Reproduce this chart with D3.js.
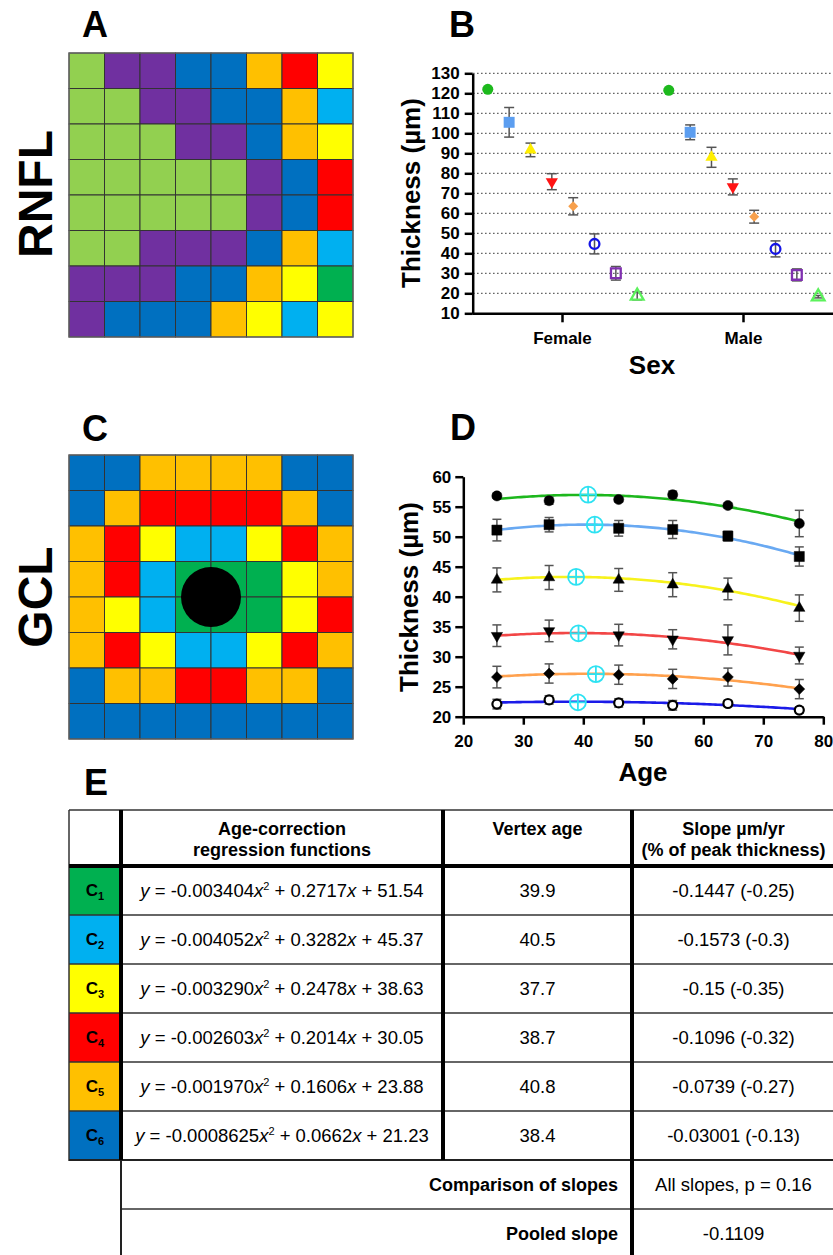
<!DOCTYPE html>
<meta charset="utf-8">
<style>
  body { margin: 0; background: #fff; }
  text { font-family: "Liberation Sans", Arial, sans-serif; }
</style>
<svg width="833" height="1255"></svg>
<script src="https://d3js.org/d3.v7.min.js"></script>
<script>

var svg = d3.select("svg");

// ---------- data ----------
// sector colour codes of the 8x8 grids
var rnflGrid = ["GPPBBORY", "GGPPBBOC", "GGGPPBOY", "GGGGGPBR",
                "GGGGGPBR", "GGPPPBOC", "PPPBBOYD", "PBBBOYCY"];
var gclGrid  = ["BBOOOOBB", "BORRRROB", "ORYCCYRO", "ORCDDDYO",
                "OYCDDDYR", "ORYCCYRO", "BOORROOB", "BBBBBBBB"];
var cellColors = {G: "#92D050", P: "#7030A0", B: "#0070C0", O: "#FFC000",
                  R: "#FF0000", Y: "#FFFF00", C: "#00B0F0", D: "#00B050"};

// panel B: RNFL thickness by sex (8 sectors)
var sexes = ["Female", "Male"];
var rnflSectors = ["S1", "S2", "S3", "S4", "S5", "S6", "S7", "S8"];
var rnflFemale    = [122.0, 105.5, 91.7, 75.8, 63.5, 44.7, 30.0, 18.7];
var rnflFemaleErr = [0.6, 7.4, 3.4, 4.0, 4.3, 5.0, 3.4, 2.0];
var rnflMale      = [121.5, 100.5, 88.0, 73.2, 58.3, 42.2, 29.2, 18.3];
var rnflMaleErr   = [0.6, 3.7, 5.0, 4.0, 3.2, 4.0, 3.0, 0.6];

// panel D: GCL thickness by age
var ages = [25.6, 34.3, 45.9, 54.9, 64.1, 76.0];
var gclMeans = [
  [56.8, 56.0, 56.2, 57.0, 55.2, 52.2],
  [51.1, 52.0, 51.4, 51.2, 50.1, 46.7],
  [42.8, 43.2, 42.8, 42.0, 41.3, 38.1],
  [33.5, 34.3, 33.6, 32.9, 32.8, 30.2],
  [26.6, 27.2, 27.0, 26.3, 26.6, 24.6],
  [22.1, 22.8, 22.3, 21.9, 22.2, 21.1]
];
var gclErr = [
  [0.4, 0.6, 0.4, 0.6, 0.4, 2.2],
  [1.8, 1.2, 1.3, 1.5, 0.8, 1.6],
  [2.0, 2.0, 1.9, 2.0, 1.8, 2.2],
  [1.8, 1.8, 1.8, 1.6, 2.5, 1.4],
  [1.8, 1.6, 1.6, 1.6, 1.5, 1.6],
  [0.8, 0.7, 0.7, 0.8, 0.5, 0.5]
];
var vertexX = [40.8, 41.9, 38.8, 39.2, 42.1, 39.1];
var vertexY = [57.0, 52.0, 43.3, 33.9, 27.1, 22.4];

// panel E: table
var rowNames = ["1", "2", "3", "4", "5", "6"];
var coefA = ["-0.003404", "-0.004052", "-0.003290", "-0.002603", "-0.001970", "-0.0008625"];
var coefB = ["0.2717", "0.3282", "0.2478", "0.2014", "0.1606", "0.0662"];
var coefC = ["51.54", "45.37", "38.63", "30.05", "23.88", "21.23"];
var vertexAges = ["39.9", "40.5", "37.7", "38.7", "40.8", "38.4"];
var slopes = ["-0.1447 (-0.25)", "-0.1573 (-0.3)", "-0.15 (-0.35)",
              "-0.1096 (-0.32)", "-0.0739 (-0.27)", "-0.03001 (-0.13)"];
var slopeTest = "All slopes, p = 0.16";
var pooledSlope = "-0.1109";

// ---------- styles ----------
var rowColors = ["#00B050", "#00B0F0", "#FFFF00", "#FF0000", "#FFC000", "#0070C0"];
var curveColors = ["#1DB71D", "#69A9F2", "#F7F21C", "#F24646", "#FFA14E", "#1B1BE8"];
var vertexColor = "#2DE2F2";
var errColor = "#555";

// panel letters and side titles
function bigText(x, y, t, size) {
  svg.append("text").attr("x", x).attr("y", y).text(t)
    .attr("font-size", size).attr("font-weight", "bold");
}
bigText(82, 37, "A", 36);
bigText(449, 37, "B", 36);
bigText(82, 441, "C", 36);
bigText(450, 440, "D", 36);
bigText(84, 795, "E", 36);

function sideTitle(cy, t) {
  svg.append("text").text(t)
    .attr("transform", "translate(52," + cy + ") rotate(-90)")
    .attr("text-anchor", "middle")
    .attr("font-size", 48).attr("font-weight", "bold");
}
sideTitle(194, "RNFL");
sideTitle(597, "GCL");

// ---------- grids A and C ----------
function drawGrid(grid, top) {
  var xs = d3.scaleBand().domain(d3.range(8)).range([69, 353]);
  var ys = d3.scaleBand().domain(d3.range(8)).range([top, top + 284]);
  var cells = [];
  grid.forEach(function(row, r) {
    row.split("").forEach(function(k, c) { cells.push({r: r, c: c, k: k}); });
  });
  var g = svg.append("g");
  g.selectAll("rect").data(cells).enter().append("rect")
    .attr("x", function(d) { return xs(d.c); })
    .attr("y", function(d) { return ys(d.r); })
    .attr("width", xs.bandwidth())
    .attr("height", ys.bandwidth())
    .attr("fill", function(d) { return cellColors[d.k]; })
    .attr("stroke", "#333")
    .attr("stroke-width", 1);
  g.append("rect").attr("x", 69).attr("y", top).attr("width", 284).attr("height", 284)
    .attr("fill", "none").attr("stroke", "#666").attr("stroke-width", 1.2);
  return {x: xs, y: ys};
}
drawGrid(rnflGrid, 53);
var gc = drawGrid(gclGrid, 455);
svg.append("circle")
  .attr("cx", gc.x(4)).attr("cy", gc.y(4)).attr("r", 30)
  .attr("fill", "#000");

// ---------- common axis style ----------
function styleAxis(g) {
  g.attr("font-size", 17).attr("font-weight", "bold")
    .attr("font-family", "Liberation Sans, Arial, sans-serif");
  g.selectAll("path, line").attr("stroke", "#000").attr("stroke-width", 2.5);
  g.selectAll("text").attr("fill", "#000");
}

// marker definitions shared by B and D
var markerTypes = [
  {sym: d3.symbolCircle, size: 95, rot: 0, open: false},
  {sym: d3.symbolSquare, size: 120, rot: 0, open: false},
  {sym: d3.symbolTriangle, size: 65, rot: 0, open: false},
  {sym: d3.symbolTriangle, size: 65, rot: 180, open: false},
  {sym: d3.symbolSquare, size: 50, rot: 45, open: false},
  {sym: d3.symbolCircle, size: 75, rot: 0, open: true},
  {sym: d3.symbolSquare, size: 95, rot: 0, open: true},
  {sym: d3.symbolTriangle, size: 70, rot: 0, open: true}
];
var rnflColors = ["#1DB91D", "#5C9EF0", "#FFEE00", "#FF1414", "#F7A04C", "#1414E6", "#8030B0", "#5CF25C"];

// ---------- panel B ----------
var bx = d3.scaleBand().domain(sexes).range([472, 834]);
var bOff = d3.scalePoint().domain(rnflSectors).range([-74.7, 74.7]);
var by = d3.scaleLinear().domain([10, 130]).range([313.3, 73.3]);

var bGrid = svg.append("g");
bGrid.selectAll("line").data(d3.range(20, 131, 10)).enter().append("line")
  .attr("x1", 473).attr("x2", 833)
  .attr("y1", function(d) { return by(d); })
  .attr("y2", function(d) { return by(d); })
  .attr("stroke", "#666").attr("stroke-width", 1.3)
  .attr("stroke-dasharray", "1.6,2.4");

var bPts = [];
sexes.forEach(function(s, si) {
  var vals = si === 0 ? rnflFemale : rnflMale;
  var errs = si === 0 ? rnflFemaleErr : rnflMaleErr;
  rnflSectors.forEach(function(k, i) {
    bPts.push({x: bx(s) + bx.bandwidth() / 2 + bOff(k), v: vals[i], e: errs[i], i: i});
  });
});

function errorBars(sel, pts, xf, yf, cap) {
  var g = sel.append("g").attr("stroke", errColor).attr("stroke-width", 1.5);
  pts.forEach(function(d) {
    var x = xf(d), y1 = yf(d.v - d.e), y2 = yf(d.v + d.e);
    g.append("line").attr("x1", x).attr("x2", x).attr("y1", y1).attr("y2", y2);
    g.append("line").attr("x1", x - cap).attr("x2", x + cap).attr("y1", y1).attr("y2", y1);
    g.append("line").attr("x1", x - cap).attr("x2", x + cap).attr("y1", y2).attr("y2", y2);
  });
}
errorBars(svg, bPts, function(d) { return d.x; }, by, 5);

svg.append("g").selectAll("path").data(bPts).enter().append("path")
  .attr("d", function(d) { var m = markerTypes[d.i]; return d3.symbol().type(m.sym).size(m.size)(); })
  .attr("transform", function(d) {
    return "translate(" + d.x + "," + by(d.v) + ") rotate(" + markerTypes[d.i].rot + ")";
  })
  .attr("fill", function(d) { return markerTypes[d.i].open ? "none" : rnflColors[d.i]; })
  .attr("stroke", function(d) { return markerTypes[d.i].open ? rnflColors[d.i] : "none"; })
  .attr("stroke-width", 2.3);

svg.append("g").attr("transform", "translate(472.7,0)")
  .call(d3.axisLeft(by).tickValues(d3.range(10, 131, 10)).tickSize(8).tickPadding(5).tickSizeOuter(0))
  .call(styleAxis);
svg.append("g").attr("transform", "translate(0,313.3)")
  .call(d3.axisBottom(bx).tickSize(9).tickPadding(10).tickSizeOuter(0))
  .call(styleAxis);

svg.append("text").text("Thickness (µm)")
  .attr("transform", "translate(420,193) rotate(-90)")
  .attr("text-anchor", "middle").attr("font-size", 26).attr("font-weight", "bold");
svg.append("text").text("Sex").attr("x", 652).attr("y", 374)
  .attr("text-anchor", "middle").attr("font-size", 26).attr("font-weight", "bold");

// ---------- panel D ----------
var dx = d3.scaleLinear().domain([20, 80]).range([463.3, 823.3]);
var dy = d3.scaleLinear().domain([20, 60]).range([716.7, 476.7]);

var curve = d3.line().x(function(d) { return dx(d[0]); }).y(function(d) { return dy(d[1]); })
  .curve(d3.curveBasis);
var fitAges = d3.range(ages[0], ages[ages.length - 1] + 0.01, 0.5);

gclMeans.forEach(function(means, s) {
  var a = +coefA[s], b = +coefB[s], c = +coefC[s];
  svg.append("path")
    .datum(fitAges.map(function(x) { return [x, a * x * x + b * x + c]; }))
    .attr("d", curve)
    .attr("fill", "none").attr("stroke", curveColors[s]).attr("stroke-width", 2.6);
});

gclMeans.forEach(function(means, s) {
  var pts = means.map(function(v, j) { return {a: ages[j], v: v, e: gclErr[s][j]}; });
  errorBars(svg, pts, function(d) { return dx(d.a); }, dy, 4.5);
  var m = markerTypes[s];
  svg.append("g").selectAll("path").data(pts).enter().append("path")
    .attr("d", d3.symbol().type(m.sym).size(s === 4 ? 60 : m.size * 0.85))
    .attr("transform", function(d) {
      return "translate(" + dx(d.a) + "," + dy(d.v) + ") rotate(" + m.rot + ")";
    })
    .attr("fill", m.open ? "#fff" : "#000")
    .attr("stroke", "#000").attr("stroke-width", m.open ? 2.2 : 0.5);
});

// vertex markers
var vg = svg.append("g").attr("stroke", vertexColor).attr("stroke-width", 1.8).attr("fill", "none");
vertexX.forEach(function(vx, s) {
  var cx = dx(vx), cy = dy(vertexY[s]), r = 8;
  vg.append("circle").attr("cx", cx).attr("cy", cy).attr("r", r);
  vg.append("line").attr("x1", cx - r).attr("x2", cx + r).attr("y1", cy).attr("y2", cy);
  vg.append("line").attr("x1", cx).attr("x2", cx).attr("y1", cy - r).attr("y2", cy + r);
});

svg.append("g").attr("transform", "translate(463.3,0)")
  .call(d3.axisLeft(dy).tickValues(d3.range(20, 61, 5)).tickSize(8).tickPadding(4).tickSizeOuter(0))
  .call(styleAxis);
svg.append("g").attr("transform", "translate(0,716.7)")
  .call(d3.axisBottom(dx).tickValues(d3.range(20, 81, 10)).tickSize(8).tickPadding(10).tickSizeOuter(0))
  .call(styleAxis);

svg.append("text").text("Thickness (µm)")
  .attr("transform", "translate(418,597) rotate(-90)")
  .attr("text-anchor", "middle").attr("font-size", 26).attr("font-weight", "bold");
svg.append("text").text("Age").attr("x", 643).attr("y", 781)
  .attr("text-anchor", "middle").attr("font-size", 26).attr("font-weight", "bold");

// ---------- panel E: table ----------
var colX = [69, 121, 443, 632, 833];
var rowY = d3.scaleBand().domain(rowNames).range([866, 1160]);
var t = svg.append("g");

t.selectAll("rect.sw").data(rowNames).enter().append("rect")
  .attr("x", colX[0]).attr("width", colX[1] - colX[0])
  .attr("y", function(d) { return rowY(d); })
  .attr("height", rowY.bandwidth())
  .attr("fill", function(d, i) { return rowColors[i]; });

function hdr(x, y, s) {
  t.append("text").attr("x", x).attr("y", y).text(s)
    .attr("text-anchor", "middle").attr("font-size", 18).attr("font-weight", "bold");
}
hdr((colX[1] + colX[2]) / 2, 835, "Age-correction");
hdr((colX[1] + colX[2]) / 2, 856, "regression functions");
hdr((colX[2] + colX[3]) / 2, 835, "Vertex age");
hdr((colX[3] + colX[4]) / 2 + 1, 835, "Slope µm/yr");
hdr((colX[3] + colX[4]) / 2 + 1, 856, "(% of peak thickness)");

rowNames.forEach(function(n, i) {
  var yb = rowY(n) + rowY.bandwidth() / 2 + 6.5;
  var lab = t.append("text").attr("x", (colX[0] + colX[1]) / 2).attr("y", yb - 1)
    .attr("text-anchor", "middle").attr("font-weight", "bold").attr("font-size", 17);
  lab.append("tspan").text("C");
  lab.append("tspan").text(n).attr("font-size", 11).attr("dy", 4);

  var eq = t.append("text").attr("x", (colX[1] + colX[2]) / 2).attr("y", yb)
    .attr("text-anchor", "middle").attr("font-size", 18.5);
  eq.append("tspan").text("y").attr("font-style", "italic");
  eq.append("tspan").text(" = " + coefA[i]);
  eq.append("tspan").text("x").attr("font-style", "italic");
  eq.append("tspan").text("2").attr("font-size", 11).attr("dy", -7);
  eq.append("tspan").text(" + " + coefB[i]).attr("dy", 7);
  eq.append("tspan").text("x").attr("font-style", "italic");
  eq.append("tspan").text(" + " + coefC[i]);

  t.append("text").attr("x", (colX[2] + colX[3]) / 2).attr("y", yb).text(vertexAges[i])
    .attr("text-anchor", "middle").attr("font-size", 18.5);
  t.append("text").attr("x", (colX[3] + colX[4]) / 2 + 1).attr("y", yb).text(slopes[i])
    .attr("text-anchor", "middle").attr("font-size", 18.5);
});

t.append("text").attr("x", 618).attr("y", 1191).text("Comparison of slopes")
  .attr("text-anchor", "end").attr("font-size", 18).attr("font-weight", "bold");
t.append("text").attr("x", 618).attr("y", 1240).text("Pooled slope")
  .attr("text-anchor", "end").attr("font-size", 18).attr("font-weight", "bold");
t.append("text").attr("x", (colX[3] + colX[4]) / 2 + 1).attr("y", 1191).text(slopeTest)
  .attr("text-anchor", "middle").attr("font-size", 18.5);
t.append("text").attr("x", (colX[3] + colX[4]) / 2 + 1).attr("y", 1240).text(pooledSlope)
  .attr("text-anchor", "middle").attr("font-size", 18.5);

// table rules
function rule(x1, y1, x2, y2, w, c) {
  t.append("line").attr("x1", x1).attr("y1", y1).attr("x2", x2).attr("y2", y2)
    .attr("stroke", c || "#333").attr("stroke-width", w);
}
rule(69, 810, 833, 810, 1.5);
rule(69, 810, 69, 1161, 1.5);
rowNames.slice(1).forEach(function(n) { rule(69, rowY(n), 833, rowY(n), 1.5); });
rule(69, 1160, 833, 1160, 2.2, "#222");
rule(121, 1209, 833, 1209, 1.5);
rule(121, 1160, 121, 1255, 2, "#222");
rule(69, 866, 833, 866, 4, "#000");
rule(121, 810, 121, 1160, 4, "#000");
rule(443, 810, 443, 1160, 4, "#000");
rule(632, 810, 632, 1255, 4, "#000");

</script>
